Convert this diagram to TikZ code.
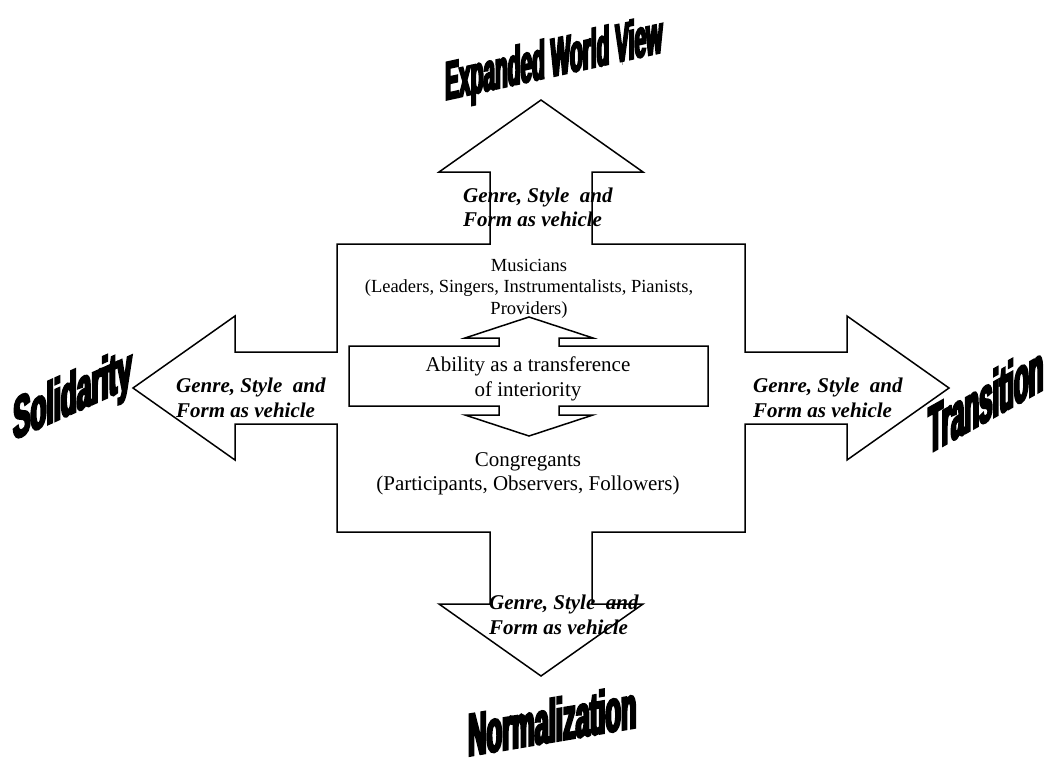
\documentclass[tikz,border=0pt]{standalone}
\usepackage{fontspec}
\setmainfont{Liberation Serif}
% heavy condensed face for the four slanted headings
\newfontfamily\wordart[FakeStretch=0.42,FakeBold=4]{Liberation Sans Bold}

\begin{document}
\begin{tikzpicture}[x=1pt,y=-1pt,
  outline/.style={draw=black,line width=1.5pt,line join=miter,fill=white},
  vehicle/.style={font=\fontsize{21}{24.5}\selectfont\bfseries\itshape,
    align=left,anchor=base west,inner sep=0pt},
  roles/.style={font=\fontsize{21}{24.5}\selectfont,align=center,anchor=base,inner sep=0pt},
  wordtitle/.style={font=\wordart\fontsize{#1}{#1}\selectfont,anchor=base west,inner sep=0pt},
]
\useasboundingbox (0,0) rectangle (1049,769);

% four-way arrow
\draw[outline] (541,100) -- (643,172) -- (592,172) -- (592,244) -- (745,244)
  -- (745,352) -- (847,352) -- (847,316) -- (949,388) -- (847,460) -- (847,424)
  -- (745,424) -- (745,532) -- (592,532) -- (592,604) -- (643,604) -- (541,676)
  -- (439,604) -- (490,604) -- (490,532) -- (337,532) -- (337,424) -- (235,424)
  -- (235,460) -- (133,388) -- (235,316) -- (235,352) -- (337,352) -- (337,244)
  -- (490,244) -- (490,172) -- (439,172) -- cycle;

% central double-headed arrow
\draw[outline] (349,346) -- (499,346) -- (499,338) -- (465,338) -- (529,317)
  -- (593,338) -- (559,338) -- (559,346) -- (708,346) -- (708,406) -- (559,406)
  -- (559,415) -- (593,415) -- (529,436) -- (465,415) -- (499,415) -- (499,406)
  -- (349,406) -- cycle;

% labels inside the arrows (anchored on the baseline of their last line)
\node[vehicle] (vup) at (463,226.5) {Genre, Style\ \ and\\Form as vehicle};
\node[vehicle] (vleft) at (176,417) {Genre, Style\ \ and\\Form as vehicle};
\node[vehicle] (vright) at (753,417) {Genre, Style\ \ and\\Form as vehicle};
\node[vehicle] (vdown) at (489,634) {Genre, Style\ \ and\\Form as vehicle};

\node[roles,font=\fontsize{18.5}{21.5}\selectfont] (musicians) at (529,314)
  {Musicians\\(Leaders, Singers, Instrumentalists, Pianists,\\Providers)};
\node[roles] (ability) at (528,396) {Ability as a transference\\of interiority};
\node[roles] (congregants) at (528,490.5)
  {Congregants\\(Participants, Observers, Followers)};

% slanted headings
\node[wordtitle=54,yslant=0.22,xscale=0.92] (expanded) at (445,100) {Expanded World View};
\node[wordtitle=59,yslant=0.45,xscale=1.05] (solidarity) at (13,440) {Solidarity};
\node[wordtitle=66,yslant=0.56,xscale=0.87] (transition) at (928,454) {Transition};
\node[wordtitle=60,yslant=0.17,xscale=1.01] (normalization) at (468,756) {Normalization};
\end{tikzpicture}
\end{document}
